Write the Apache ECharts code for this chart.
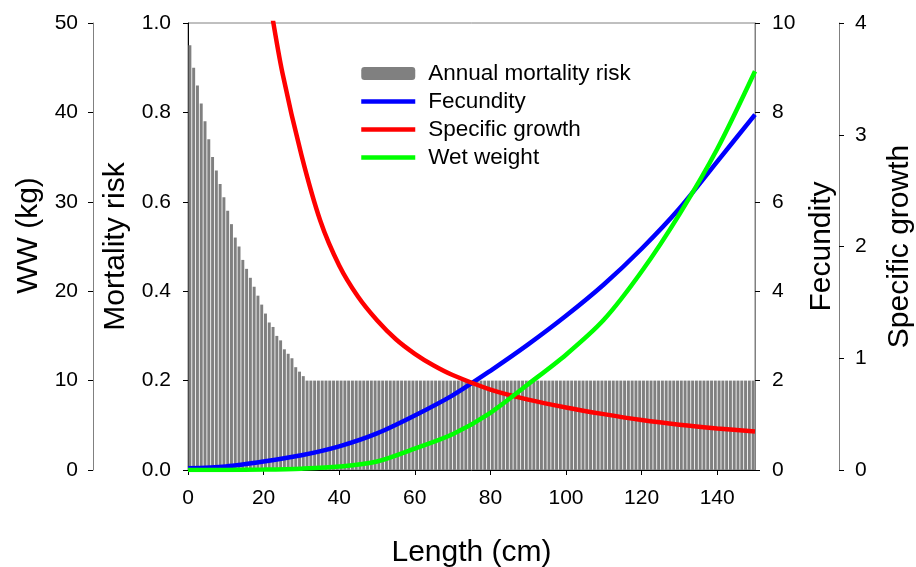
<!DOCTYPE html>
<html>
<head>
<meta charset="utf-8">
<script src="https://cdn.jsdelivr.net/npm/echarts@6/dist/echarts.min.js"></script>
<style>
  html, body { margin: 0; padding: 0; background: #fff; }
  #chart { width: 916px; height: 567px; }
</style>
</head>
<body>
<div id="chart"></div>
<script>
// annual mortality risk, one bar per cm of length (1..150)
const mortality = [
  0.95, 0.90, 0.86, 0.82, 0.78, 0.74, 0.70, 0.67, 0.64, 0.61,
  0.58, 0.55, 0.52, 0.50, 0.47, 0.45, 0.43, 0.41, 0.39, 0.37,
  0.35, 0.33, 0.32, 0.30, 0.29, 0.27, 0.26, 0.25, 0.23, 0.22,
  0.21, 0.20, 0.20, 0.20, 0.20, 0.20, 0.20, 0.20, 0.20, 0.20,
  0.20, 0.20, 0.20, 0.20, 0.20, 0.20, 0.20, 0.20, 0.20, 0.20,
  0.20, 0.20, 0.20, 0.20, 0.20, 0.20, 0.20, 0.20, 0.20, 0.20,
  0.20, 0.20, 0.20, 0.20, 0.20, 0.20, 0.20, 0.20, 0.20, 0.20,
  0.20, 0.20, 0.20, 0.20, 0.20, 0.20, 0.20, 0.20, 0.20, 0.20,
  0.20, 0.20, 0.20, 0.20, 0.20, 0.20, 0.20, 0.20, 0.20, 0.20,
  0.20, 0.20, 0.20, 0.20, 0.20, 0.20, 0.20, 0.20, 0.20, 0.20,
  0.20, 0.20, 0.20, 0.20, 0.20, 0.20, 0.20, 0.20, 0.20, 0.20,
  0.20, 0.20, 0.20, 0.20, 0.20, 0.20, 0.20, 0.20, 0.20, 0.20,
  0.20, 0.20, 0.20, 0.20, 0.20, 0.20, 0.20, 0.20, 0.20, 0.20,
  0.20, 0.20, 0.20, 0.20, 0.20, 0.20, 0.20, 0.20, 0.20, 0.20,
  0.20, 0.20, 0.20, 0.20, 0.20, 0.20, 0.20, 0.20, 0.20, 0.20
]
const barLengths = mortality.map((v, i) => String(i + 1))

// lengths (cm) where fecundity and wet weight were read
const lenPoints = [0, 10, 20, 30, 40, 50, 60, 70, 80, 90, 100, 110, 120, 130, 140, 150]
const fecundity = [0.04, 0.08, 0.19, 0.33, 0.53, 0.82, 1.22, 1.67, 2.22, 2.81, 3.45, 4.15, 4.95, 5.85, 6.9, 7.95]
const wetWeight = [0, 0.01, 0.05, 0.15, 0.38, 0.95, 2.4, 4.0, 6.4, 9.6, 12.9, 16.8, 22.2, 28.6, 35.9, 44.6]

// specific growth, steep at small sizes
const growthLen = [22, 25, 30, 35, 40, 45, 50, 55, 60, 65, 70, 80, 90, 100, 110, 120, 130, 140, 150]
const growthVal = [4.12, 3.55, 2.82, 2.23, 1.83, 1.55, 1.34, 1.17, 1.04, 0.935, 0.85, 0.72, 0.63, 0.56, 0.5, 0.447, 0.405, 0.372, 0.345]

const font = 'Arial, "Liberation Sans", sans-serif'
const gray = '#808080'
const titleSize = 30

const pairs = (xs, ys) => xs.map((x, i) => [x, ys[i]])

const yAxisBase = (o) => ({
  type: 'value',
  min: o.min,
  max: o.max,
  interval: o.interval,
  position: o.position,
  offset: o.offset,
  name: o.name,
  nameLocation: 'middle',
  nameGap: o.nameGap,
  nameTextStyle: { fontFamily: font, fontSize: titleSize, color: '#000', padding: o.namePadding || 0 },
  axisLine: { show: true, onZero: false, lineStyle: { color: o.lineColor, width: 1 } },
  axisTick: { show: true, inside: false, length: 5, lineStyle: { color: '#000' } },
  axisLabel: {
    margin: o.margin,
    fontFamily: font,
    fontSize: 21,
    color: '#000',
    formatter: o.formatter || '{value}'
  },
  splitLine: { show: false }
})

// line legend entries: keep the line, hide the marker ECharts adds
const lineEntry = name => ({ name: name, itemStyle: { opacity: 0 }, lineStyle: { width: 4.5 } })

const chart = echarts.init(document.getElementById('chart'))

const option = {
  animation: false,
  backgroundColor: '#fff',
  grid: {
    left: 188,
    right: 161,
    top: 23,
    bottom: 97,
    show: true,
    borderColor: gray,
    borderWidth: 1,
    outerBoundsMode: 'none'
  },
  legend: {
    orient: 'vertical',
    left: 354,
    top: 57,
    itemWidth: 54,
    itemHeight: 13,
    itemGap: 5,
    lineStyle: { width: 4.5 },
    textStyle: { fontFamily: font, fontSize: 22.5, color: '#000', lineHeight: 22.6, padding: [0, 0, 0, 8] },
    data: [
      'Annual mortality risk',
      lineEntry('Fecundity'),
      lineEntry('Specific growth'),
      lineEntry('Wet weight')
    ]
  },
  xAxis: [
    {
      type: 'value',
      min: 0,
      max: 150,
      interval: 20,
      name: 'Length (cm)',
      nameLocation: 'middle',
      nameGap: 68,
      nameTextStyle: { fontFamily: font, fontSize: titleSize, color: '#000' },
      axisLine: { show: true, onZero: false, lineStyle: { color: '#000' } },
      axisTick: { show: true, length: 5, lineStyle: { color: '#000' } },
      axisLabel: {
        margin: 18,
        fontFamily: font,
        fontSize: 21,
        color: '#000',
        showMaxLabel: false
      },
      splitLine: { show: false }
    },
    {
      type: 'category',
      data: barLengths,
      boundaryGap: true,
      show: false
    }
  ],
  yAxis: [
    yAxisBase({ min: 0, max: 1, interval: 0.2, position: 'left', offset: 0, name: 'Mortality risk',
      nameGap: 56, margin: 17, lineColor: '#000', formatter: v => v.toFixed(1) }),
    yAxisBase({ min: 0, max: 50, interval: 10, position: 'left', offset: 95, name: 'WW (kg)',
      nameGap: 48, margin: 15, lineColor: gray, namePadding: [0, 0, 0, 22] }),
    yAxisBase({ min: 0, max: 10, interval: 2, position: 'right', offset: 0, name: 'Fecundity',
      nameGap: 48, margin: 17, lineColor: gray }),
    yAxisBase({ min: 0, max: 4, interval: 1, position: 'right', offset: 84, name: 'Specific growth',
      nameGap: 46, margin: 16, lineColor: gray })
  ],
  series: [
    {
      name: 'Annual mortality risk',
      type: 'bar',
      xAxisIndex: 1,
      yAxisIndex: 0,
      data: mortality,
      barCategoryGap: '22%',
      itemStyle: { color: gray }
    },
    {
      name: 'Fecundity',
      type: 'line',
      xAxisIndex: 0,
      yAxisIndex: 2,
      data: pairs(lenPoints, fecundity),
      smooth: 0.3,
      symbol: 'none',
      lineStyle: { color: '#0000ff', width: 4.5 },
      itemStyle: { color: '#0000ff' }
    },
    {
      name: 'Specific growth',
      type: 'line',
      xAxisIndex: 0,
      yAxisIndex: 3,
      data: pairs(growthLen, growthVal),
      smooth: 0.3,
      symbol: 'none',
      clip: true,
      lineStyle: { color: '#ff0000', width: 4.5 },
      itemStyle: { color: '#ff0000' }
    },
    {
      name: 'Wet weight',
      type: 'line',
      xAxisIndex: 0,
      yAxisIndex: 1,
      data: pairs(lenPoints, wetWeight),
      smooth: 0.3,
      symbol: 'none',
      lineStyle: { color: '#00ff00', width: 4.5 },
      itemStyle: { color: '#00ff00' }
    }
  ]
}

chart.setOption(option)
</script>
</body>
</html>
